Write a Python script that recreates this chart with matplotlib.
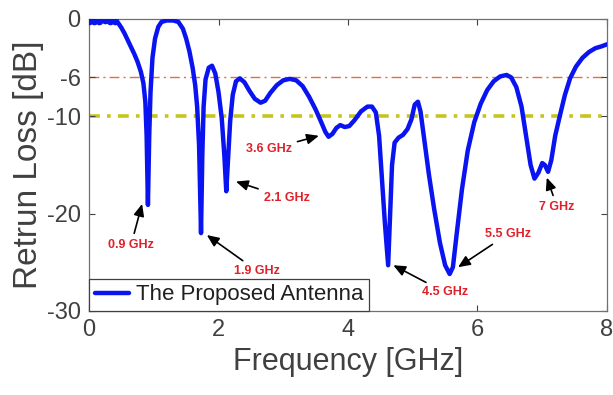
import matplotlib
matplotlib.use("Agg")
import matplotlib.pyplot as plt

# Return loss of the proposed antenna
freq = [0.00, 0.08, 0.16, 0.24, 0.32, 0.40, 0.45, 0.50, 0.55, 0.60, 0.65, 0.70, 0.75, 0.80,
        0.84, 0.87, 0.89, 0.91, 0.93, 0.95, 0.98, 1.02, 1.07, 1.12, 1.20, 1.30, 1.38,
        1.45, 1.50, 1.55, 1.60, 1.64, 1.67, 1.70, 1.72, 1.73, 1.75, 1.77, 1.80, 1.85,
        1.90, 1.95, 2.00, 2.05, 2.09, 2.12, 2.15, 2.18, 2.22, 2.27, 2.33, 2.40, 2.48,
        2.56, 2.65, 2.72, 2.80, 2.90, 3.00, 3.10, 3.20, 3.30, 3.40, 3.50, 3.58, 3.65,
        3.70, 3.76, 3.82, 3.88, 3.95, 4.02, 4.10, 4.20, 4.30, 4.37, 4.43, 4.48, 4.52,
        4.57, 4.62, 4.65, 4.68, 4.72, 4.78, 4.85, 4.92, 4.98, 5.03, 5.08, 5.12, 5.18,
        5.25, 5.33, 5.42, 5.50, 5.57, 5.62, 5.68, 5.76, 5.85, 5.95, 6.05, 6.15, 6.25,
        6.35, 6.45, 6.52, 6.60, 6.68, 6.75, 6.82, 6.88, 6.94, 7.00, 7.04, 7.09, 7.14,
        7.20, 7.27, 7.35, 7.43, 7.52, 7.62, 7.72, 7.82, 7.92, 8.00]
s11 = [-0.25, -0.2, -0.2, -0.15, -0.2, -0.25, -0.4, -0.9, -1.5, -2.2, -2.9, -3.6, -4.4, -5.4,
       -6.6, -8.5, -12.0, -19.1, -12.0, -7.5, -4.0, -2.0, -0.8, -0.3, -0.15, -0.15, -0.3,
       -1.0, -2.0, -3.3, -5.0, -6.8, -9.0, -13.0, -19.0, -22.0, -14.0, -9.0, -6.2, -5.0,
       -4.8, -5.6, -7.5, -10.2, -14.0, -17.7, -14.0, -10.5, -7.8, -6.4, -6.1, -6.5, -7.4,
       -8.2, -8.6, -8.4, -7.6, -6.8, -6.3, -6.15, -6.3, -6.9, -8.0, -9.3, -10.5, -11.6,
       -12.1, -11.8, -11.2, -10.9, -11.1, -11.0, -10.4, -9.5, -9.0, -9.0, -9.6, -12.0, -16.0,
       -21.0, -25.3, -20.0, -15.0, -12.7, -12.2, -11.9, -11.3, -10.3, -8.8, -8.5, -9.5, -12.5,
       -16.0, -19.5, -23.0, -25.3, -26.2, -25.5, -22.0, -17.5, -13.5, -10.6, -8.7, -7.3, -6.4,
       -5.9, -5.75, -6.0, -7.0, -9.0, -12.0, -15.0, -16.4, -15.8, -14.8, -15.0, -15.7, -14.5,
       -12.0, -10.0, -7.8, -6.1, -4.9, -4.0, -3.4, -3.0, -2.8, -2.6]
n_dotted = 6

# resonance labels: text, arrow head (f, dB), text position (f, dB)
labels = ["0.9 GHz", "1.9 GHz", "2.1 GHz", "3.6 GHz", "4.5 GHz", "5.5 GHz", "7 GHz"]
heads = [(0.82, -19.0), (1.82, -22.2), (2.27, -16.7), (3.55, -12.0), (4.7, -25.3), (5.7, -25.5), (7.07, -16.3)]
texts = [(0.65, -23.2), (2.6, -25.9), (3.05, -18.4), (2.78, -13.4), (5.5, -28.1), (6.47, -22.1), (7.23, -19.3)]

xticks = [0, 2, 4, 6, 8]
yticks = [-30, -20, -10, -6, 0]

plt.rcParams["font.family"] = ["Liberation Sans", "DejaVu Sans"]
grey = "#404040"

fig = plt.figure(figsize=(6.13, 3.95), dpi=100)
ax = fig.add_axes([0.1452, 0.2127, 0.845, 0.7392])

ax.axhline(-6, color="#e07040", lw=1.0, ls=(0, (7, 3, 1.5, 3)), zorder=1)
ax.axhline(-10, color="#c8c41e", lw=2.6, ls=(0, (3, 2, 1, 2)), zorder=1)

line, = ax.plot(freq, s11, color="#0a14f0", lw=3.2, solid_joinstyle="round",
                solid_capstyle="round", zorder=3, label="The Proposed Antenna")
ax.plot(freq[:n_dotted], s11[:n_dotted], ls="none", marker="o", ms=4.5,
        color="#0a14f0", zorder=3)

for lab, hd, tx in zip(labels, heads, texts):
    ax.annotate(lab, xy=hd, xytext=tx, color="#e0202a", fontsize=9, fontweight="bold",
                ha="center", va="center", zorder=4,
                arrowprops=dict(arrowstyle="-|>,head_length=0.8,head_width=0.35",
                                color="black", lw=1.2, shrinkA=2, shrinkB=0))

ax.set_xlim(0, 8)
ax.set_ylim(-30, 0)
ax.set_xticks(xticks)
ax.set_yticks(yticks)
ax.set_yticklabels([str(v) for v in yticks])
ax.tick_params(direction="in", top=True, right=True, labelsize=17, colors=grey,
               length=4, width=0.8, pad=6)
for sp in ax.spines.values():
    sp.set_color("#707070")
    sp.set_linewidth(0.9)

ax.set_xlabel("Frequency [GHz]", fontsize=22, color=grey, labelpad=4)
ax.set_ylabel("Retrun Loss [dB]", fontsize=24, color=grey, labelpad=2)

leg = ax.legend(handles=[line], loc="lower left", borderaxespad=0, fancybox=False,
                framealpha=1, edgecolor="#404040", fontsize=16, handlelength=1.55,
                handletextpad=0.3, borderpad=0.25)
leg.get_frame().set_linewidth(0.9)
for t in leg.get_texts():
    t.set_color("#202020")

fig.savefig("out.png", dpi=100)
